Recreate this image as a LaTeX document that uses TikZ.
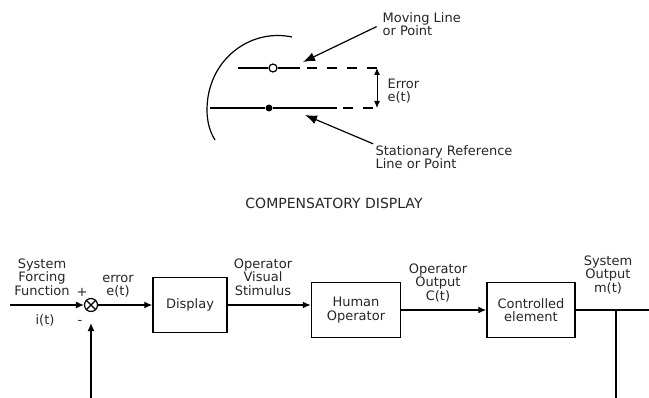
\documentclass[tikz,border=0pt]{standalone}
\usepackage{fontspec}
\setmainfont{DejaVu Sans}
\usetikzlibrary{arrows.meta}
\tikzset{every picture/.style={line width=1.2pt}}

\begin{document}
\begin{tikzpicture}[x=1pt, y=-1pt, font=\fontsize{13}{13.5}\selectfont, text=black!85,
  blk/.style={draw, line width=1.5pt, minimum height=55pt, align=center, inner sep=0pt},
  lbl/.style={inner sep=0pt, align=center},
  tip/.style={-{Latex[length=8pt,width=7pt]}},
  bigtip/.style={-{Latex[length=12pt,width=9pt]}},
  dsh/.style={dash pattern=on 10pt off 10pt}]
\useasboundingbox (0,0) rectangle (649,398);
% compensatory display
\draw (292,37) .. controls (250,28) and (207,60) .. (207,110) .. controls (207,122) and (210,132) .. (215,140);
\coordinate (mvA) at (238,68);
\node (mv) at (273,68) [circle, draw, fill=white, minimum size=8pt, inner sep=0pt] {};
\coordinate (mvS) at (300,68);
\coordinate (mvE) at (380,68);
\coordinate (stA) at (210,108);
\node (st) at (269,108) [circle, fill, minimum size=7pt, inner sep=0pt] {};
\coordinate (stS) at (337,108);
\coordinate (stE) at (380,108);
\draw (mvA) -- (mv) -- (mvS);
\draw[dsh, dash phase=13pt] (mvS) -- (mvE);
\draw (stA) -- (st) -- (stS);
\draw[dsh, dash phase=14pt] (stS) -- (stE);
\coordinate (errT) at (377,68);
\coordinate (errB) at (377,108);
\draw[{Latex[length=7pt,width=6pt]}-{Latex[length=7pt,width=6pt]}, line width=1pt] (errT) -- (errB);
\node (errlbl) at (387,91) [lbl, anchor=west, align=left] {Error\\e(t)};
\node (mvlbl) at (382,24) [lbl, anchor=west, align=left] {Moving Line\\or Point};
\coordinate (mvTip) at (303,62);
\draw[bigtip, shorten <=6pt] (mvlbl.west) -- (mvTip);
\node (stlbl) at (375,157) [lbl, anchor=west, align=left] {Stationary Reference\\Line or Point};
\coordinate (stTip) at (305,115);
\draw[bigtip, shorten <=2pt] (stlbl.north west) -- (stTip);
\node (title) at (334,203) [lbl, font=\fontsize{14}{14}\selectfont] {COMPENSATORY DISPLAY};
% control loop
\coordinate (in) at (10,305);
\node (sum) at (91,305) [circle, draw, minimum size=13pt, inner sep=0pt] {};
\draw (sum.north west) -- (sum.south east) (sum.north east) -- (sum.south west);
\node (disp) at (190,305) [blk, minimum width=74pt] {Display};
\node (hum) at (356,310) [blk, minimum width=89pt] {Human\\Operator};
\node (ctrl) at (531,310) [blk, minimum width=88pt] {Controlled\\element};
\coordinate (outE) at (649,310);
\coordinate (tap) at (616,310);
\coordinate (fbR) at (616,398);
\coordinate (fbL) at (91,398);
\draw[tip] (in) -- (sum);
\draw[tip] (sum) -- (disp);
\draw[tip] (disp) -- (disp -| hum.west);
\draw[tip] (hum) -- (ctrl);
\draw (ctrl) -- (outE);
\draw (tap) -- (fbR);
\draw[tip, shorten >=11pt] (fbL) -- (sum);
\node (sff) at (42,277) [lbl] {System\\Forcing\\Function};
\node (it) at (45,320) [lbl] {i(t)};
\node (plus) at (82,292) [lbl] {+};
\node (minus) at (80,322) [lbl] {-};
\node (err) at (118,286) [lbl] {error\\e(t)};
\node (ovs) at (263,277) [lbl] {Operator\\Visual\\Stimulus};
\node (ooc) at (438,283) [lbl] {Operator\\Output\\C(t)};
\node (som) at (608,275) [lbl] {System\\Output\\m(t)};
\end{tikzpicture}
\end{document}
